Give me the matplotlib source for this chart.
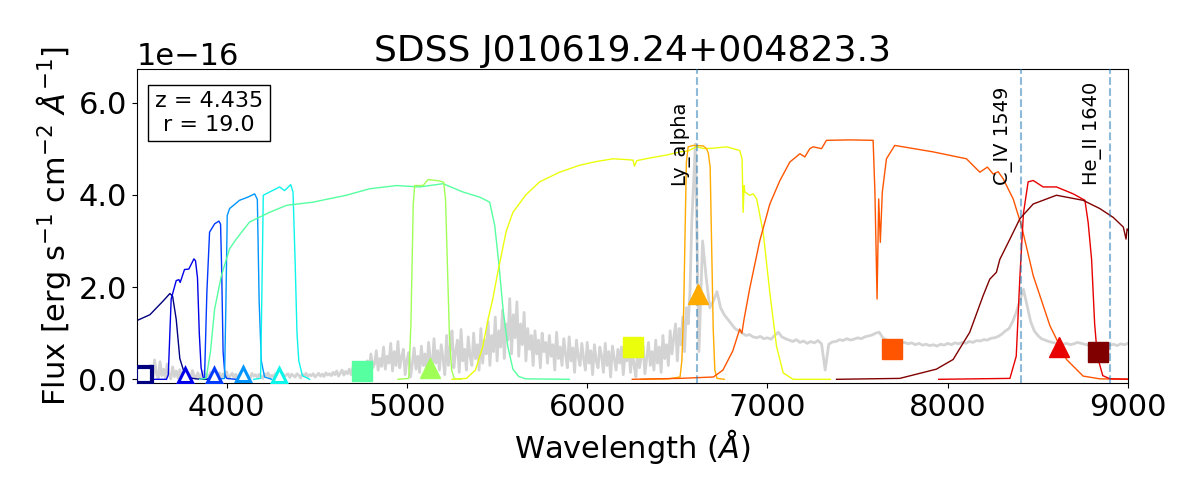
import matplotlib
matplotlib.use('Agg')
import matplotlib.pyplot as plt
import numpy as np
from matplotlib.ticker import ScalarFormatter, MultipleLocator

# --- SDSS spectrum (flux in 1e-16 erg/s/cm2/A) ---
# blue part: 10 A sampling from 3580 A (noisy)
spec_blue_start = 3580
spec_blue_step = 10
spec_blue_flux = [
    0.30, 0.05, 0.42, 0.12, 0.02, 0.38, 0.08, 0.22, 0.04, 0.33,  # 3580
    0.10, 0.01, 0.27, 0.06, 0.18, 0.03, 0.21, 0.09, 0.02, 0.16,  # 3680
    0.05, 0.12, 0.01, 0.19, 0.07, 0.03, 0.14, 0.02, 0.10, 0.17,  # 3780
    0.04, 0.11, 0.02, 0.15, 0.06, 0.13, 0.01, 0.09, 0.14, 0.03,  # 3880
    0.12, 0.05, 0.16, 0.02, 0.08, 0.13, 0.04, 0.11, 0.01, 0.10,  # 3980
    0.14, 0.03, 0.09, 0.12, 0.05, 0.02, 0.13, 0.07, 0.10, 0.04,  # 4080
    0.11, 0.06, 0.02, 0.12, 0.08, 0.14, 0.03, 0.09, 0.05, 0.12,  # 4180
    0.07, 0.10, 0.03, 0.13, 0.06, 0.09, 0.12, 0.04, 0.11, 0.08,  # 4280
    0.05, 0.12, 0.09, 0.03, 0.11, 0.07, 0.13, 0.06, 0.10, 0.08,  # 4380
    0.12, 0.05, 0.09, 0.13, 0.07, 0.11, 0.06, 0.14, 0.09, 0.12,  # 4480
    0.08, 0.15, 0.10, 0.18, 0.07, 0.13, 0.20, 0.09, 0.17, 0.12,  # 4580
    0.22, 0.10, 0.26, 0.14, 0.19, 0.30, 0.12, 0.25, 0.35, 0.15,  # 4680
    0.40, 0.18, 0.55, 0.25, 0.33, 0.62, 0.20, 0.45, 0.28, 0.70,  # 4780
    0.22, 0.50, 0.35, 0.78, 0.18, 0.60, 0.30, 0.82, 0.25, 0.48,  # 4880
    0.65, 0.10, 0.42, 0.58, 0.05, 0.35, 0.68, 0.22, 0.50, 0.15,  # 4980
    0.72, 0.30, 0.55, 0.12, 0.80, 0.40, 0.25, 0.88, 0.35, 0.62,  # 5080
    0.20, 0.75, 0.45, 0.10, 0.95, 0.30, 0.70, 1.05, 0.25, 0.60,  # 5180
    0.85, 0.15, 1.08, 0.40, 0.65, 0.20, 0.92, 0.50, 0.30, 1.00,  # 5280
    0.45, 0.75, 0.20, 1.10, 0.35, 0.85, 0.55, 1.25, 0.30, 0.95,  # 5380
    0.60, 1.35, 0.40, 1.05, 0.70, 1.50, 0.45, 1.20, 0.85, 1.75,  # 5480
    0.55, 1.40, 0.90, 1.68, 0.50, 1.20, 0.75, 1.45, 0.40, 1.10,  # 5580
    0.65, 0.95, 0.30, 1.05, 0.55, 0.85, 0.25, 1.00, 0.60, 0.80,  # 5680
    0.35, 0.95, 0.50, 0.75, 0.20, 1.02, 0.45, 0.70, 0.30, 0.88,  # 5780
    0.55, 0.25, 0.92, 0.40, 0.68, 0.15, 0.85, 0.50, 0.30, 0.78,  # 5880
    0.45, 0.20, 0.80, 0.35, 0.62, 0.10, 0.75, 0.40, 0.25, 0.70,  # 5980
    0.50, 0.15, 0.78, 0.30, 0.60, 0.05, 0.72, 0.45, 0.20, 0.65,  # 6080
    0.35, 0.70, 0.10, 0.55, 0.40, 0.75, 0.15, 0.62, 0.30, 0.05,  # 6180
    0.68, 0.25, 0.50, 0.72, 0.12, 0.45, 0.80, 0.30, 0.60, 0.20,  # 6280
    0.85, 0.35, 0.70, 0.15, 0.95, 0.45, 0.75, 0.30, 1.05, 0.55,  # 6380
    0.90, 1.20, 0.40, 1.10, 0.75, 1.35, 0.60, 1.55, 1.20, 1.90,  # 6480
]
# red part: 20 A sampling from 6580 A
spec_red_start = 6580
spec_red_step = 20
spec_red_flux = [
    3.40, 5.10, 0.60, 3.00, 2.20, 1.55, 1.70, 1.90, 1.55, 1.40,  # 6580
    1.30, 1.20, 1.10, 1.05, 1.00, 0.95, 0.97, 0.92, 0.90, 0.93,  # 6780
    0.88, 0.90, 0.87, 0.95, 1.02, 0.92, 0.88, 0.85, 0.82, 0.86,  # 6980
    0.80, 0.83, 0.78, 0.82, 0.79, 0.84, 0.77, 0.20, 0.76, 0.81,  # 7180
    0.82, 0.86, 0.84, 0.88, 0.85, 0.87, 0.90, 0.88, 0.92, 0.94,  # 7380
    0.96, 1.00, 1.02, 0.90, 0.85, 0.82, 0.84, 0.80, 0.78, 0.80,  # 7580
    0.77, 0.79, 0.75, 0.78, 0.74, 0.76, 0.73, 0.75, 0.72, 0.76,  # 7780
    0.74, 0.78, 0.75, 0.79, 0.77, 0.80, 0.78, 0.82, 0.80, 0.84,  # 7980
    0.83, 0.86, 0.85, 0.89, 0.90, 0.93, 0.98, 1.05, 1.10, 1.25,  # 8180
    1.45, 1.70, 1.95, 1.60, 1.25, 1.05, 0.95, 0.88, 0.85, 0.82,  # 8380
    0.80, 0.78, 0.80, 0.76, 0.78, 0.75, 0.77, 0.80, 0.78, 0.76,  # 8580
    0.74, 0.78, 0.60, 0.77, 0.75, 0.78, 0.74, 0.76, 0.73, 0.77,  # 8780
    0.75, 0.78,                                                  # 8980
]

# --- filter transmission curves (scaled, same units) ---
f_u_wave = [3400, 3500, 3574, 3648, 3685, 3700, 3720, 3740, 3760, 3777, 3800, 3830, 3860, 3950]
f_u_flux = [1.05, 1.27, 1.40, 1.70, 1.86, 1.80, 1.30, 0.45, 0.20, 0.07, 0.03, 0.01, 0.0, 0.0]

f_1_wave = [3600, 3666, 3676, 3692, 3720, 3735, 3742, 3766, 3790, 3818, 3827, 3838, 3848, 3858, 3870, 3900]
f_1_flux = [0.0, 0.0, 0.10, 1.74, 2.14, 2.16, 2.10, 2.38, 2.39, 2.61, 2.57, 2.20, 1.00, 0.25, 0.03, 0.0]

f_2_wave = [3850, 3877, 3890, 3905, 3933, 3957, 3966, 3972, 3980, 3990, 4000, 4050]
f_2_flux = [0.0, 0.02, 1.88, 3.19, 3.37, 3.43, 3.36, 2.40, 0.60, 0.10, 0.02, 0.0]

f_3_wave = [3950, 3988, 3995, 4003, 4016, 4071, 4118, 4155, 4170, 4180, 4192, 4210, 4250]
f_3_flux = [0.0, 0.02, 1.50, 3.55, 3.70, 3.88, 3.95, 4.02, 3.90, 1.70, 0.40, 0.05, 0.0]

f_4_wave = [4150, 4188, 4195, 4203, 4238, 4294, 4321, 4355, 4368, 4380, 4390, 4400, 4420, 4460]
f_4_flux = [0.0, 0.02, 1.80, 3.99, 4.06, 4.17, 4.09, 4.22, 4.06, 2.50, 1.00, 0.40, 0.08, 0.0]

f_g_wave = [3850, 3886, 3910, 3933, 3970, 4016, 4053, 4127, 4238, 4331, 4478, 4664, 4793, 4941,
            5070, 5200, 5311, 5403, 5459, 5487, 5510, 5533, 5560, 5588, 5620, 5660, 5900]
f_g_flux = [0.0, 0.02, 0.60, 1.52, 2.24, 2.83, 3.04, 3.41, 3.62, 3.77, 3.84, 3.99, 4.13, 4.20,
            4.17, 4.24, 4.06, 3.95, 3.84, 3.33, 2.50, 1.52, 0.70, 0.22, 0.06, 0.01, 0.0]

f_6_wave = [4950, 5010, 5022, 5035, 5043, 5089, 5117, 5181, 5204, 5214, 5225, 5236, 5248, 5262, 5300]
f_6_flux = [0.0, 0.02, 1.20, 3.80, 4.20, 4.20, 4.33, 4.30, 4.27, 3.90, 2.40, 0.90, 0.20, 0.02, 0.0]

f_r_wave = [5250, 5330, 5380, 5420, 5450, 5476, 5503, 5550, 5588, 5660, 5736, 5847, 5958, 6050,
            6143, 6230, 6254, 6262, 6275, 6350, 6439, 6513, 6560, 6606, 6650, 6699, 6773, 6846,
            6859, 6865, 6870, 6875, 6901, 6921, 6940, 6976, 7013, 7050, 7087, 7142, 7350]
f_r_flux = [0.0, 0.02, 0.20, 0.70, 1.30, 1.74, 2.30, 3.20, 3.62, 4.00, 4.28, 4.49, 4.64, 4.72,
            4.78, 4.76, 4.75, 4.62, 4.74, 4.80, 4.86, 4.93, 4.95, 5.04, 5.00, 5.01, 5.04, 4.96,
            4.78, 3.62, 4.20, 4.06, 3.99, 4.02, 3.91, 3.19, 1.88, 0.72, 0.14, 0.0, 0.0]

f_8_wave = [6300, 6450, 6515, 6525, 6535, 6550, 6560, 6588, 6643, 6662, 6672, 6682, 6699, 6708, 6720, 6760]
f_8_flux = [0.0, 0.01, 0.05, 0.40, 1.50, 4.70, 5.04, 5.07, 5.06, 5.00, 4.90, 4.60, 1.09, 0.20, 0.02, 0.0]

f_i_wave = [6250, 6513, 6700, 6753, 6808, 6846, 6858, 6870, 6901, 6957, 7013, 7068, 7124, 7180,
            7207, 7235, 7253, 7300, 7327, 7457, 7586, 7596, 7608, 7617, 7626, 7637, 7660, 7706,
            7919, 8104, 8178, 8220, 8252, 8280, 8307, 8363, 8409, 8474, 8567, 8659, 8751, 8844, 9050]
f_i_flux = [0.0, 0.02, 0.05, 0.20, 0.62, 1.09, 1.00, 1.30, 1.96, 3.00, 3.80, 4.30, 4.71, 4.89,
            4.82, 5.00, 5.04, 5.00, 5.18, 5.19, 5.18, 4.06, 1.74, 3.91, 2.97, 4.06, 4.78, 5.07,
            4.93, 4.78, 4.49, 4.60, 4.45, 4.50, 4.35, 3.91, 3.33, 2.25, 1.16, 0.43, 0.07, 0.01, 0.0]

f_10_wave = [7950, 8345, 8380, 8400, 8420, 8446, 8474, 8529, 8603, 8696, 8761, 8779, 8798, 8815, 8830, 8860, 8900, 9050]
f_10_flux = [0.0, 0.02, 0.50, 2.20, 3.60, 4.28, 4.31, 4.17, 4.17, 4.02, 3.88, 3.40, 2.60, 1.20, 0.50, 0.08, 0.01, 0.0]

f_z_wave = [7383, 7734, 7937, 8030, 8122, 8196, 8233, 8270, 8289, 8345, 8400, 8474, 8603, 8751,
            8844, 8918, 8974, 8989, 8995, 9050]
f_z_flux = [0.0, 0.02, 0.22, 0.43, 1.02, 1.81, 2.17, 2.32, 2.60, 3.04, 3.48, 3.80, 3.99, 3.88,
            3.70, 3.51, 3.30, 3.04, 3.26, 3.00]

filters = [(f_u_wave, f_u_flux), (f_1_wave, f_1_flux), (f_2_wave, f_2_flux),
           (f_3_wave, f_3_flux), (f_4_wave, f_4_flux), (f_g_wave, f_g_flux),
           (f_6_wave, f_6_flux), (f_r_wave, f_r_flux), (f_8_wave, f_8_flux),
           (f_i_wave, f_i_flux), (f_10_wave, f_10_flux), (f_z_wave, f_z_flux)]

# --- photometry ---
phot_wave = [3540, 3768, 3931, 4088, 4292, 4751, 5128, 6254, 6617, 7693, 8615, 8834]
phot_flux = [0.10, 0.10, 0.10, 0.12, 0.10, 0.19, 0.25, 0.71, 1.84, 0.66, 0.71, 0.60]
phot_detected = [False, False, False, False, False, True, True, True, True, True, True, True]
phot_marker = ['s', '^', '^', '^', '^', 's', '^', 's', '^', 's', '^', 's']

# --- emission lines ---
line_wave = [6609, 8406, 8900]
line_names = ['Ly_alpha', 'C_IV 1549', 'He_II 1640']

colors = plt.cm.jet(np.linspace(0, 1, len(filters)))
scale = 1e-16

fig = plt.figure(figsize=(12, 5), dpi=100)
ax = fig.add_axes([0.1138, 0.234, 0.8262, 0.6274])

spec_wave = np.concatenate([spec_blue_start + spec_blue_step * np.arange(len(spec_blue_flux)),
                            spec_red_start + spec_red_step * np.arange(len(spec_red_flux))])
spec_flux = np.array(spec_blue_flux + spec_red_flux)
ax.plot(spec_wave, spec_flux * scale, color='lightgrey', lw=2, zorder=1)

for (w, f), c in zip(filters, colors):
    ax.plot(w, np.array(f) * scale, color=c, lw=1, zorder=2)

for w, name in zip(line_wave, line_names):
    ax.axvline(w, color='C0', ls='--', lw=1.5, alpha=0.5, zorder=3)
    ax.text(w - 45, 4.22 * scale, name, rotation=90, ha='right', va='bottom', fontsize=14)

for i in range(len(phot_wave)):
    if phot_detected[i]:
        ax.plot(phot_wave[i], phot_flux[i] * scale, marker=phot_marker[i], ms=15,
                color=colors[i], mec=colors[i], ls='none', zorder=4)
    else:
        ms = 12 if phot_marker[i] == 's' else 10
        ax.plot(phot_wave[i], phot_flux[i] * scale, marker=phot_marker[i], ms=ms,
                mfc='white', mec=colors[i], mew=3 if phot_marker[i] == 's' else 2.2,
                ls='none', zorder=4)

ax.text(0.073, 0.861, 'z = 4.435\nr = 19.0', transform=ax.transAxes, fontsize=16,
        ha='center', va='center', multialignment='center',
        bbox=dict(boxstyle='square', facecolor='white', edgecolor='black'))


class OneDecimal(ScalarFormatter):
    def _set_format(self):
        self.format = '%1.1f'


ax.set_xlim(3500, 9000)
ax.set_ylim(-0.08 * scale, 6.72 * scale)
ax.yaxis.set_major_locator(MultipleLocator(2 * scale))
ax.yaxis.set_major_formatter(OneDecimal())
ax.tick_params(labelsize=22)
ax.yaxis.get_offset_text().set_fontsize(22)

ax.set_xlabel(r'Wavelength ($\AA$)', fontsize=22)
ax.set_ylabel(r'Flux [erg s$^{-1}$ cm$^{-2}$ $\AA^{-1}$]', fontsize=22)
ax.set_title('SDSS J010619.24+004823.3', fontsize=26)

fig.savefig('out.png', dpi=100)
